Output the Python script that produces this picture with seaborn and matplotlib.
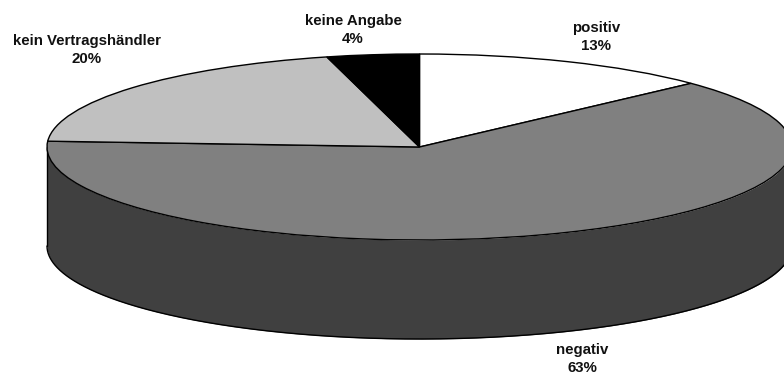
import numpy as np
import matplotlib
matplotlib.use("Agg")
import matplotlib.pyplot as plt
import seaborn as sns

# Survey shares, clockwise from twelve o'clock
categories = ["positiv", "negativ", "kein Vertragshändler", "keine Angabe"]
shares = [13, 63, 20, 4]
slice_colors = ["#FFFFFF", "#808080", "#C0C0C0", "#000000"]
wall_color = "#404040"

# Canvas geometry of the tilted disc, in pixels
WIDTH, HEIGHT = 784, 374
CX, CY, RX, RY, DEPTH = 419.5, 147.0, 372.5, 93.0, 99.0

# Label anchor points, in pixels (x centre, y of the first line's centre)
label_px = [(596, 28), (582, 350), (87, 41), (353, 21)]
LINE_STEP = 18

sns.set_theme(style="white")
plt.rcParams["font.family"] = ["Liberation Sans", "DejaVu Sans"]

fig = plt.figure(figsize=(WIDTH / 100, HEIGHT / 100), dpi=100, facecolor="white")
ax = fig.add_axes([0, 0, 1, 1])


def to_x(px):
    return (px - CX) / RX


def to_y(py):
    return (CY - py) / RY


# Top face of the disc
ax.pie(
    shares,
    colors=slice_colors,
    startangle=90,
    counterclock=False,
    radius=1,
    wedgeprops={"edgecolor": "black", "linewidth": 1.0, "zorder": 3},
)

# Front wall: the lower half of the rim, dropped by the disc depth
theta = np.linspace(np.pi, 2 * np.pi, 721)
rim_x = np.cos(theta)
rim_y = np.sin(theta)
drop = DEPTH / RY
ax.fill_between(rim_x, rim_y - drop, rim_y, color=wall_color, linewidth=0, zorder=1)
ax.plot(rim_x, rim_y - drop, color="black", lw=1.0, zorder=2)
ax.plot([-1, -1], [0, -drop], color="black", lw=1.0, zorder=2)
ax.plot([1, 1], [0, -drop], color="black", lw=1.0, zorder=2)

# The pie call fixes limits and aspect, so the pixel frame is set afterwards
ax.set_aspect("auto")
ax.set_xlim(to_x(0), to_x(WIDTH))
ax.set_ylim(to_y(HEIGHT), to_y(0))
ax.set_axis_off()

for name, share, (px, py) in zip(categories, shares, label_px):
    ax.text(to_x(px), to_y(py), name, ha="center", va="center",
            fontsize=10.8, fontweight="bold", color="#111111", zorder=5)
    ax.text(to_x(px), to_y(py + LINE_STEP), f"{share}%", ha="center", va="center",
            fontsize=10.8, fontweight="bold", color="#111111", zorder=5)

fig.savefig("out.png", dpi=100, facecolor="white")
